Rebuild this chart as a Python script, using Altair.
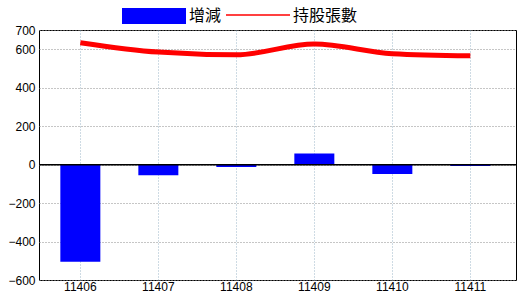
import altair as alt
import pandas as pd

months = ["11406", "11407", "11408", "11409", "11410", "11411"]
change = [-505, -55, -12, 58, -49, -7]
holders = [634, 585, 571, 627, 577, 566]
y_ticks = [700, 600, 400, 200, 0, -200, -400, -600]

df = pd.DataFrame({"month": months, "change": change, "holders": holders})

W, H = 477, 250
xscale = alt.Scale(domain=months, paddingInner=0, paddingOuter=0.0577, align=0.26)
yscale = alt.Scale(domain=[-600, 700], nice=False, zero=False)

xaxis = alt.Axis(title=None, labelAngle=0, ticks=False, domain=False,
                 grid=True, gridColor="#9db7c9", gridDash=[1, 2], gridWidth=1,
                 labelFont="Liberation Sans", labelFontSize=12, labelColor="#000",
                 labelPadding=1)
yaxis = alt.Axis(title=None, values=y_ticks, ticks=False, domain=False,
                 grid=True, gridColor="#8c8c8c", gridDash=[1, 2], gridWidth=1,
                 labelFont="Liberation Sans", labelFontSize=12, labelColor="#000",
                 labelPadding=4)

base = alt.Chart(df)

bars = base.mark_bar(color="#0000ff", size=40).encode(
    x=alt.X("month:N", scale=xscale, axis=xaxis, sort=months),
    y=alt.Y("change:Q", scale=yscale, axis=yaxis),
    y2=alt.datum(0),
)

zero = base.mark_rule(color="#000", strokeWidth=1).encode(
    y=alt.datum(0, scale=yscale, axis=yaxis)
)

line = base.mark_line(color="#ff0000", strokeWidth=5, interpolate="monotone").encode(
    x=alt.X("month:N", scale=xscale, sort=months, axis=xaxis),
    y=alt.Y("holders:Q", scale=yscale, axis=yaxis),
)

# legend
one = pd.DataFrame({"a": [0]})
leg_rect = alt.Chart(one).mark_rect(color="#0000ff").encode(
    x=alt.value(83), x2=alt.value(147), y=alt.value(-22), y2=alt.value(-6)
)
leg_line = alt.Chart(one).mark_rule(color="#ff0000", strokeWidth=1.5).encode(
    x=alt.value(187), x2=alt.value(251), y=alt.value(-15)
)
leg_t1 = alt.Chart(pd.DataFrame({"t": ["增減"]})).mark_text(
    align="left", baseline="middle", font="Noto Sans CJK TC", fontSize=16, color="#000"
).encode(x=alt.value(150), y=alt.value(-14), text="t:N")
leg_t2 = alt.Chart(pd.DataFrame({"t": ["持股張數"]})).mark_text(
    align="left", baseline="middle", font="Noto Sans CJK TC", fontSize=16, color="#000"
).encode(x=alt.value(254), y=alt.value(-14), text="t:N")

chart = alt.layer(bars, zero, line, leg_rect, leg_line, leg_t1, leg_t2).properties(
    width=W, height=H,
    padding={"left": 39, "top": 30, "right": 4, "bottom": 20},
    autosize=alt.AutoSizeParams(type="none"),
    background="#ffffff",
).configure_view(stroke="#000000", strokeWidth=1)

chart.save("out.html", embed_options={"renderer": "svg", "actions": False})
